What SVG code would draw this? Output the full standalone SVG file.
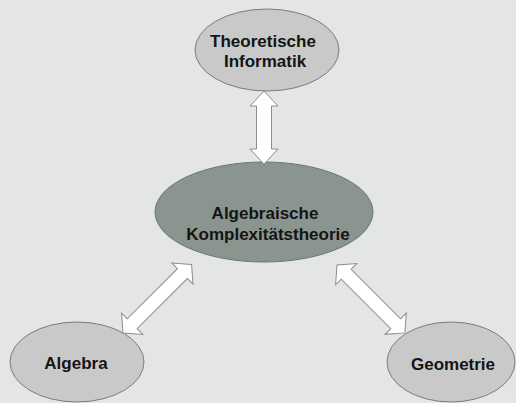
<svg xmlns="http://www.w3.org/2000/svg" width="516" height="403" viewBox="0 0 516 403">
<style>
.bg{fill:#e3e6e5}
.node{fill:#c8c9c8;stroke:#7a7d7c;stroke-width:1}
.main{fill:#8b9590;stroke:#6f7672;stroke-width:1}
.lbl{font-family:"Liberation Sans",Arial,sans-serif;font-weight:bold;font-size:17px;fill:#141414;text-anchor:middle}
.arr{fill:#ffffff;stroke:#8a8d8c;stroke-width:1;stroke-linejoin:miter}
</style>
<rect class="bg" x="0" y="0" width="516" height="403"/>
<g id="node-theoretische-informatik">
<ellipse class="node" cx="267" cy="50" rx="72" ry="41"/>
<text class="lbl" x="263" y="47">Theoretische</text>
<text class="lbl" x="265" y="67">Informatik</text>
</g>
<g id="node-algebraische-komplexitaetstheorie">
<ellipse class="main" cx="264" cy="212" rx="109" ry="50"/>
<text class="lbl" x="265" y="219">Algebraische</text>
<text class="lbl" x="268" y="240">Komplexitätstheorie</text>
</g>
<g id="node-algebra">
<ellipse class="node" cx="77" cy="362" rx="67" ry="40"/>
<text class="lbl" x="76" y="369">Algebra</text>
</g>
<g id="node-geometrie">
<ellipse class="node" cx="451" cy="362" rx="64" ry="40"/>
<text class="lbl" x="453" y="370">Geometrie</text>
</g>
<g id="connectors">
<polygon class="arr" transform="translate(264,91) rotate(90)" points="0,0 15,14 15,7.5 58,7.5 58,14 73,0 58,-14 58,-7.5 15,-7.5 15,-14"/>
<polygon class="arr" transform="translate(123,333) rotate(-45)" points="0,0 13,15 13,7 84,7 84,15 97,0 84,-15 84,-7 13,-7 13,-15"/>
<polygon class="arr" transform="translate(337,265) rotate(45)" points="0,0 13,15 13,7 83,7 83,15 96,0 83,-15 83,-7 13,-7 13,-15"/>
</g>
</svg>
